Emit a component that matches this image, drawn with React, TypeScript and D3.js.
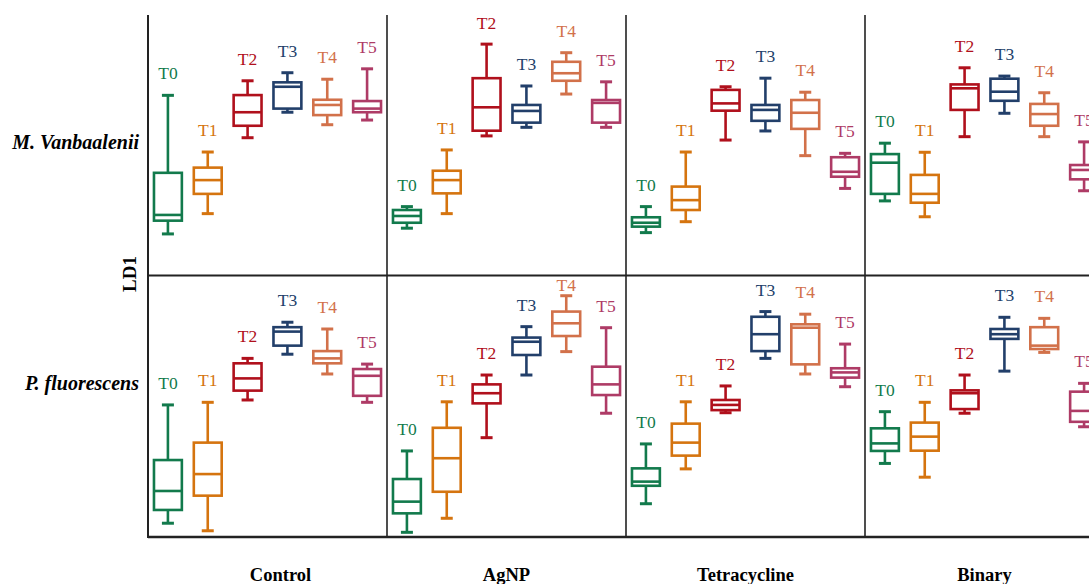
import * as d3 from "d3";
import React from "react";

// boxplot stats per time point: [min, q1, median, q3, max]  (LD1, arbitrary units)
const treatments = ["Control", "AgNP", "Tetracycline", "Binary"];
const species = ["M. Vanbaalenii", "P. fluorescens"];
const times = ["T0", "T1", "T2", "T3", "T4", "T5"];
const colors = ["#127a4c", "#d5740f", "#b0101c", "#223f6a", "#d2714a", "#ae3b66"];

const vanControl = [
  [15.8, 20.9, 23.1, 39.3, 69.1],
  [23.6, 31.2, 36.5, 41.3, 47.3],
  [52.8, 57.4, 62.6, 69.2, 74.7],
  [62.6, 64.0, 72.4, 74.1, 77.8],
  [57.8, 61.5, 65.4, 67.4, 75.3],
  [59.6, 62.6, 64.0, 66.9, 79.3]
];
const vanAgNP = [
  [18.0, 20.1, 22.7, 25.0, 26.3],
  [23.6, 31.4, 36.5, 40.1, 48.1],
  [53.5, 55.5, 64.5, 75.7, 88.8],
  [56.8, 58.6, 63.1, 65.4, 72.7],
  [69.6, 74.7, 77.6, 82.0, 85.5],
  [56.8, 58.6, 66.2, 67.3, 74.3]
];
const vanTetra = [
  [16.3, 18.6, 20.1, 22.2, 26.3],
  [20.5, 25.0, 28.8, 34.0, 47.3],
  [51.9, 63.2, 66.0, 71.2, 72.4],
  [55.4, 59.3, 63.5, 65.4, 75.7],
  [45.9, 56.2, 62.4, 67.3, 70.3],
  [33.3, 37.8, 39.7, 45.3, 46.8]
];
const vanBinary = [
  [28.5, 31.2, 43.2, 46.5, 50.7],
  [22.4, 27.8, 31.2, 38.5, 47.2],
  [53.2, 63.5, 71.8, 73.3, 79.7],
  [62.2, 67.0, 70.5, 75.5, 76.5],
  [53.2, 57.4, 61.9, 65.8, 70.1],
  [32.4, 36.8, 40.4, 42.3, 51.2]
];
const fluControl = [
  [5.3, 10.4, 17.7, 29.6, 50.8],
  [2.4, 15.9, 24.2, 36.3, 51.8],
  [52.7, 56.3, 61.0, 66.8, 68.7],
  [70.3, 73.6, 79.0, 80.7, 82.6],
  [62.7, 66.8, 68.7, 71.5, 80.0],
  [51.8, 54.3, 62.0, 64.6, 66.5]
];
const fluAgNP = [
  [1.8, 9.1, 13.6, 22.3, 33.1],
  [7.2, 17.4, 30.3, 42.0, 52.0],
  [38.2, 51.4, 55.3, 58.7, 62.3],
  [62.3, 70.0, 75.1, 76.7, 80.9],
  [71.3, 77.3, 82.2, 86.7, 92.8],
  [47.6, 54.6, 58.7, 65.5, 80.5]
];
const fluTetra = [
  [12.8, 19.7, 21.3, 26.4, 35.8],
  [26.2, 31.3, 36.3, 43.6, 52.0],
  [47.8, 48.8, 50.8, 52.7, 58.1],
  [68.7, 71.5, 78.0, 84.7, 86.7],
  [62.7, 66.4, 80.5, 81.8, 85.7],
  [57.8, 61.3, 63.3, 64.9, 74.2]
];
const fluBinary = [
  [28.3, 33.1, 36.0, 41.8, 48.2],
  [23.0, 33.2, 38.6, 44.0, 51.8],
  [47.6, 49.2, 55.3, 56.4, 62.3],
  [63.8, 76.2, 78.0, 80.0, 84.5],
  [71.0, 72.3, 73.6, 80.7, 84.1],
  [42.4, 44.3, 48.5, 55.9, 59.1]
];

const panels = [
  [vanControl, vanAgNP, vanTetra, vanBinary],
  [fluControl, fluAgNP, fluTetra, fluBinary]
];

const width = 1089;
const height = 584;
const left = 148;
const panelW = 239;
const rowBottoms = [275, 537];
const speciesY = [149, 390];
const serif = "Liberation Serif, Times New Roman, DejaVu Serif, serif";

export default function App() {
  const col = d3.scaleBand().domain(treatments).range([left, left + panelW * 4]);
  const txt = { fontFamily: serif };

  return (
    <svg
      width={width}
      height={height}
      style={{ position: "absolute", left: 0, top: 0, background: "#fff" }}
    >
      {panels.map((row, r) => {
        const y = d3.scaleLinear().domain([0, 100]).range([rowBottoms[r], rowBottoms[r] - 260]);
        const labelMin = y(100) + 14;
        return (
          <g key={r}>
            {row.map((boxes, c) => {
              const x = d3
                .scaleBand()
                .domain(times)
                .range([col(treatments[c])!, col(treatments[c])! + panelW]);
              const bw = x.bandwidth() * 0.7;
              return (
                <g key={c}>
                  {boxes.map((b, i) => {
                    const cx = x(times[i])! + x.bandwidth() / 2;
                    const [mn, q1, md, q3, mx] = b;
                    return (
                      <g key={i} stroke={colors[i]} strokeWidth={2.6} fill="none">
                        <line x1={cx} x2={cx} y1={y(mx)} y2={y(q3)} />
                        <line x1={cx} x2={cx} y1={y(q1)} y2={y(mn)} />
                        <line x1={cx - 6} x2={cx + 6} y1={y(mx)} y2={y(mx)} strokeWidth={3} />
                        <line x1={cx - 6} x2={cx + 6} y1={y(mn)} y2={y(mn)} strokeWidth={3} />
                        <rect x={cx - bw / 2} y={y(q3)} width={bw} height={y(q1) - y(q3)} fill="#fff" />
                        <line x1={cx - bw / 2} x2={cx + bw / 2} y1={y(md)} y2={y(md)} />
                        <text
                          x={cx}
                          y={Math.max(y(mx) - 16, labelMin)}
                          textAnchor="middle"
                          fontSize={17.5}
                          fill={colors[i]}
                          stroke="none"
                          style={txt}
                        >
                          {times[i]}
                        </text>
                      </g>
                    );
                  })}
                </g>
              );
            })}
            <text
              x={139}
              y={speciesY[r]}
              textAnchor="end"
              fontSize={20}
              fontWeight="bold"
              fontStyle="italic"
              style={txt}
            >
              {species[r]}
            </text>
          </g>
        );
      })}

      {/* frame */}
      <g stroke="#222">
        <line x1={left} x2={left} y1={15} y2={538} strokeWidth={2} />
        {treatments.slice(1).map((t) => (
          <line key={t} x1={col(t)!} x2={col(t)!} y1={15} y2={537} strokeWidth={1.6} />
        ))}
        <line x1={left} x2={width} y1={275.5} y2={275.5} strokeWidth={2.2} />
        <line x1={left} x2={width} y1={537} y2={537} strokeWidth={2.6} />
      </g>

      <text
        transform="translate(136,274) rotate(-90)"
        textAnchor="middle"
        fontSize={19}
        fontWeight="bold"
        style={txt}
      >
        LD1
      </text>

      {treatments.map((t, i) => (
        <text
          key={t}
          x={col(t)! + col.bandwidth() / 2 + (i === 0 ? 13 : 0)}
          y={581}
          textAnchor="middle"
          fontSize={18.5}
          fontWeight="bold"
          style={txt}
        >
          {t}
        </text>
      ))}
    </svg>
  );
}
